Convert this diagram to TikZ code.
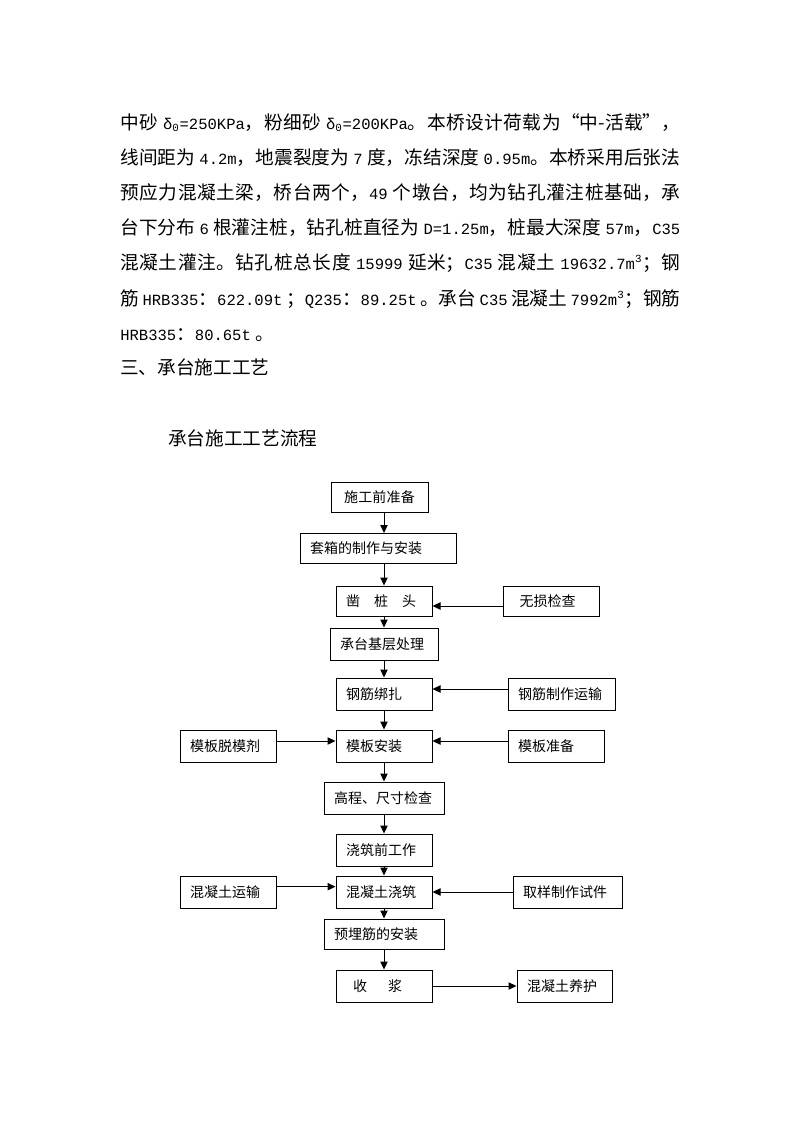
\documentclass[tikz,border=0pt]{standalone}
\usepackage{fontspec}
\setmainfont{Noto Sans CJK SC}
\newfontfamily\latfont{Liberation Mono}[Scale=0.833]
\usetikzlibrary{arrows.meta}
\XeTeXlinebreaklocale "zh"
\XeTeXlinebreakskip=0pt plus 1pt minus 0.2pt
\newcommand{\en}[1]{{\latfont #1}}

\tikzset{
  box/.style={draw, line width=0.75pt, inner xsep=7.5pt, inner ysep=0pt,
    minimum height=24pt, align=left, font=\fontsize{10.5pt}{12pt}\selectfont},
  lowbox/.style={box, minimum height=22.5pt},
  arr/.style={line width=0.75pt, -{Triangle[length=6pt,width=5.5pt]}},
  bodytext/.style={inner sep=0pt, font=\fontsize{14pt}{26.4pt}\selectfont},
}

\begin{document}
\begin{tikzpicture}[x=0.75pt,y=-0.75pt]
\useasboundingbox (0,0) rectangle (794,1123);
% text of the page
\node[bodytext, anchor=north west, text width=420pt, align=justify] (para) at (120,113)
{\tolerance=9999\hbadness=10000\noindent
中砂 \en{δ\textsubscript{0}=250KPa}，粉细砂 \en{δ\textsubscript{0}=200KPa}。本桥设计荷载为“中-活载”，\linebreak
线间距为 \en{4.2m}，地震裂度为 \en{7} 度，冻结深度 \en{0.95m}。本桥采用后张法\linebreak
预应力混凝土梁，桥台两个，\en{49} 个墩台，均为钻孔灌注桩基础，承\linebreak
台下分布 \en{6} 根灌注桩，钻孔桩直径为 \en{D=1.25m}，桩最大深度 \en{57m}，\en{C35}\linebreak
混凝土灌注。钻孔桩总长度 \en{15999} 延米；\en{C35} 混凝土 \en{19632.7m\textsuperscript{3}}；钢\linebreak
筋 \en{HRB335}：\en{622.09t} ；\en{Q235}：\en{89.25t} 。承台 \en{C35} 混凝土 \en{7992m\textsuperscript{3}}；钢筋\linebreak
\en{HRB335}：\en{80.65t} 。\par};
\node[bodytext, anchor=west] (sec) at (120,367) {三、承台施工工艺};
\node[bodytext, anchor=west] (ttl) at (168,438) {承台施工工艺流程};
% main column
\node[lowbox, text width=57.75pt, align=center] (s1) at (379.5,497) {施工前准备};
\node[lowbox, text width=102pt] (s2) at (378,548.5) {套箱的制作与安装};
\node[lowbox, text width=57pt] (s3) at (384,601) {凿\hspace{1em}桩\hspace{1em}头};
\node[box, text width=66pt] (s4) at (384,644) {承台基层处理};
\node[box, text width=57pt] (s5) at (384,694) {钢筋绑扎};
\node[box, text width=57pt] (s6) at (384,746) {模板安装};
\node[box, text width=75pt] (s7) at (384,798) {高程、尺寸检查};
\node[box, text width=57pt] (s8) at (384,850) {浇筑前工作};
\node[box, text width=57pt] (s9) at (384,892) {混凝土浇筑};
\node[lowbox, text width=75pt] (s10) at (384,934) {预埋筋的安装};
\node[box, text width=57pt] (s11) at (384,986) {\hspace*{0.5em}收\hspace{1.5em}浆};
% side boxes
\node[lowbox, text width=57pt] (n1) at (551,601) {\hspace*{5pt}无损检查};
\node[box, text width=65.25pt] (r2) at (561.5,694) {钢筋制作运输};
\node[box, text width=57pt] (l1) at (228,746) {模板脱模剂};
\node[box, text width=57pt] (r3) at (556,746) {模板准备};
\node[box, text width=57pt] (l2) at (228,892) {混凝土运输};
\node[box, text width=66.75pt] (r4) at (567.5,892) {取样制作试件};
\node[box, text width=56.25pt] (r5) at (564.5,986) {混凝土养护};
% arrows down the column
\draw[arr] (s1.south -| s3) -- (s2.north -| s3);
\draw[arr] (s2.south -| s3) -- (s3.north);
\draw[arr] (s3.south) -- (s4.north);
\draw[arr] (s4.south) -- (s5.north);
\draw[arr] (s5.south) -- (s6.north);
\draw[arr] (s6.south) -- (s7.north);
\draw[arr] (s7.south) -- (s8.north);
\draw[arr] (s8.south) -- (s9.north);
\draw[arr] (s9.south) -- (s10.north);
\draw[arr] (s10.south) -- (s11.north);
% arrows from the sides
\draw[arr] ([yshift=-3.75pt]n1.west) -- ([yshift=-3.75pt]s3.east);
\draw[arr] ([yshift=3.75pt]r2.west) -- ([yshift=3.75pt]s5.east);
\draw[arr] ([yshift=3.75pt]l1.east) -- ([yshift=3.75pt]s6.west);
\draw[arr] ([yshift=3.75pt]r3.west) -- ([yshift=3.75pt]s6.east);
\draw[arr] ([yshift=4pt]l2.east) -- ([yshift=4pt]s9.west);
\draw[arr] (r4.west) -- (s9.east);
\draw[arr] (s11.east) -- (r5.west);
\end{tikzpicture}
\end{document}
